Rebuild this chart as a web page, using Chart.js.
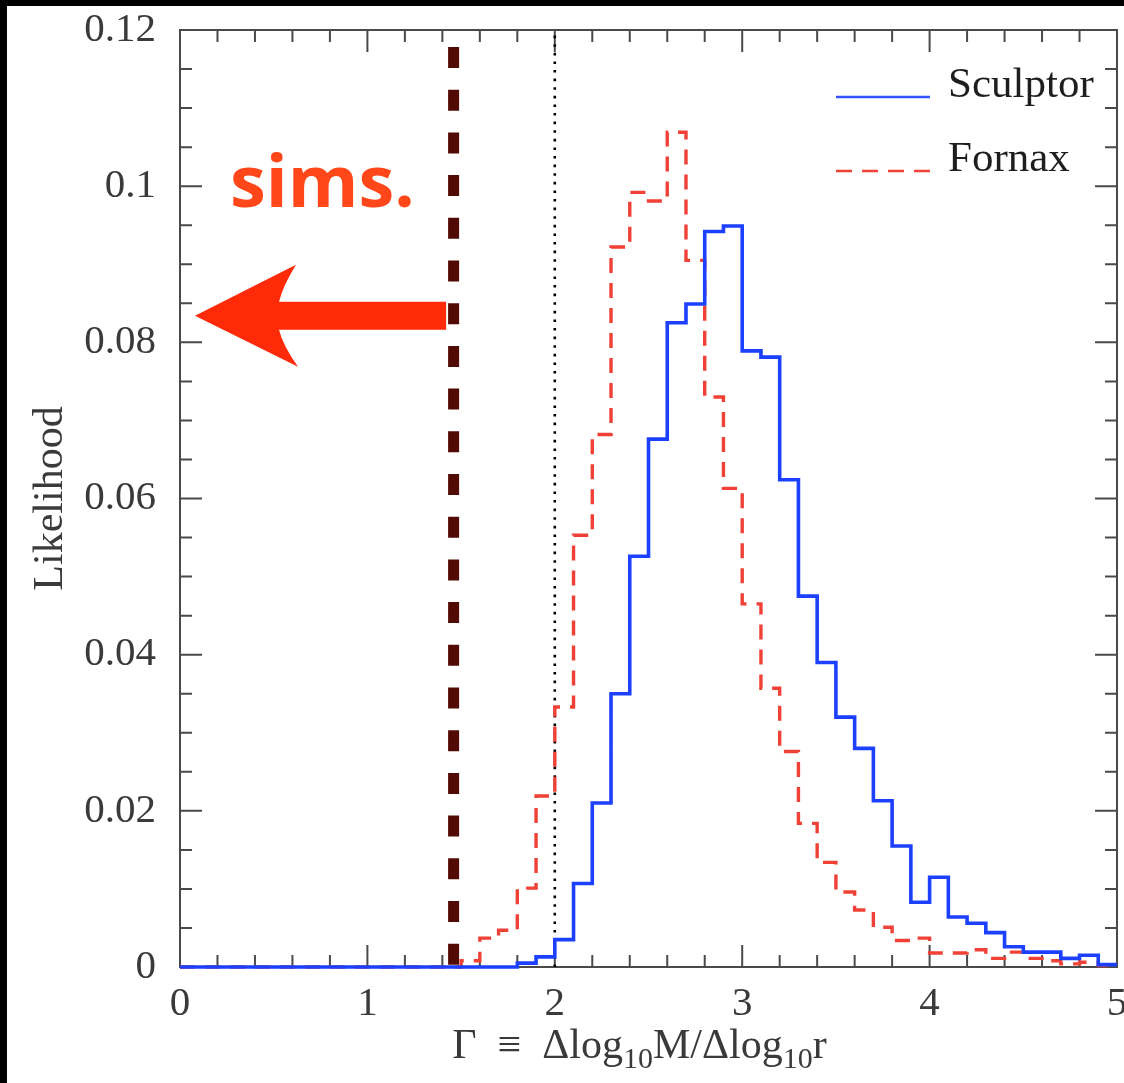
<!DOCTYPE html>
<html>
<head>
<meta charset="utf-8">
<title>Likelihood of Gamma</title>
<script src="https://cdn.jsdelivr.net/npm/chart.js@4.4.1/dist/chart.umd.min.js"></script>
<style>
  html, body { margin: 0; padding: 0; background: #000; }
  #frame { position: absolute; left: 7px; top: 6px; width: 1117px; height: 1077px; background: #fff; }
</style>
</head>
<body>
<div id="frame"><canvas id="likelihood" width="1117" height="1077"></canvas></div>
<script>
// bin edges of the Gamma histograms (bins are 0.1 wide)
const binEdges = [
    0.0, 0.1, 0.2, 0.3, 0.4, 0.5, 0.6, 0.7, 0.8, 0.9,
    1.0, 1.1, 1.2, 1.3, 1.4, 1.5, 1.6, 1.7, 1.8, 1.9,
    2.0, 2.1, 2.2, 2.3, 2.4, 2.5, 2.6, 2.7, 2.8, 2.9,
    3.0, 3.1, 3.2, 3.3, 3.4, 3.5, 3.6, 3.7, 3.8, 3.9,
    4.0, 4.1, 4.2, 4.3, 4.4, 4.5, 4.6, 4.7, 4.8, 4.9,
    5.0
];

// likelihood per bin, one value for each bin starting at binEdges[i]
const sculptorLikelihood = [
    0, 0, 0, 0, 0, 0, 0, 0, 0, 0,
    0, 0, 0, 0, 0, 0, 0, 0, 0.0005, 0.0013,
    0.0035, 0.0107, 0.0210, 0.0350, 0.0526, 0.0676, 0.0825, 0.0849, 0.0942, 0.0949,
    0.0789, 0.0781, 0.0624, 0.0475, 0.0390, 0.0320, 0.0280, 0.0213, 0.0155, 0.0083,
    0.0115, 0.0064, 0.0056, 0.0044, 0.0026, 0.0019, 0.0019, 0.0011, 0.0015, 0.0003
];
const fornaxLikelihood = [
    0, 0, 0, 0, 0, 0, 0, 0, 0, 0,
    0, 0, 0, 0, 0, 0.0008, 0.0037, 0.0047, 0.0101, 0.0219,
    0.0333, 0.0553, 0.0682, 0.0922, 0.0992, 0.0981, 0.1069, 0.0905, 0.0730, 0.0613,
    0.0465, 0.0357, 0.0276, 0.0184, 0.0134, 0.0096, 0.0073, 0.0051, 0.0034, 0.0037,
    0.0018, 0.0018, 0.0022, 0.0011, 0.0019, 0.0011, 0.0008, 0.0004, 0.0006, 0.0002
];

const xTickValues = [0, 1, 2, 3, 4, 5];
const yTickLabels = ['0', '0.02', '0.04', '0.06', '0.08', '0.1', '0.12'];

const gammaRef = 2;      // dotted vertical line
const gammaSims = 1.46;  // thick dashed line, simulations
const yRange = [0, 0.12];

// "sims." arrow, in data units
const arrowTip = [0.08, 0.0834];
const arrowTail = [1.42, 0.0834];
const simsLabelAt = [0.267, 0.0973];

const serif = 'Liberation Serif';
const textColor = '#3a3a3a';
const blue = '#1c40ff';
const red = '#ef4136';

function stepPoints(values) {
    return binEdges.map((x, i) => ({ x: x, y: values[Math.min(i, values.length - 1)] }));
}

// box around the plot with inward ticks on all four sides
const frameTicks = {
    id: 'frameTicks',
    beforeDatasetsDraw(chart) {
        const { ctx, chartArea: a, scales: { x, y } } = chart;
        ctx.save();
        ctx.strokeStyle = '#4a4a4a';
        ctx.lineWidth = 2;
        ctx.beginPath();
        for (let i = 1; i < 25; i++) {
            const px = x.getPixelForValue(i * 0.2);
            const len = i % 5 === 0 ? 22 : 12;
            ctx.moveTo(px, a.bottom); ctx.lineTo(px, a.bottom - len);
            ctx.moveTo(px, a.top); ctx.lineTo(px, a.top + len);
        }
        for (let i = 1; i < 24; i++) {
            const py = y.getPixelForValue(i * 0.005);
            const len = i % 4 === 0 ? 22 : 12;
            ctx.moveTo(a.left, py); ctx.lineTo(a.left + len, py);
            ctx.moveTo(a.right, py); ctx.lineTo(a.right - len, py);
        }
        ctx.stroke();
        ctx.strokeRect(a.left, a.top, a.right - a.left, a.bottom - a.top);
        ctx.restore();
    }
};

// legend, x title with subscripts, and the sims arrow
const overlay = {
    id: 'overlay',
    afterDatasetsDraw(chart) {
        const { ctx, chartArea: a, scales: { x, y } } = chart;
        ctx.save();

        // legend
        const legendRows = [
            { label: 'Sculptor', color: '#3355ff', dash: [], dy: 67 },
            { label: 'Fornax', color: red, dash: [16, 10], dy: 141 }
        ];
        ctx.font = '43px "' + serif + '"';
        ctx.textBaseline = 'alphabetic';
        ctx.textAlign = 'left';
        legendRows.forEach(row => {
            const ly = a.top + row.dy;
            ctx.strokeStyle = row.color;
            ctx.lineWidth = 2.4;
            ctx.setLineDash(row.dash);
            ctx.beginPath();
            ctx.moveTo(a.right - 281, ly);
            ctx.lineTo(a.right - 187, ly);
            ctx.stroke();
            ctx.fillStyle = '#1e1e1e';
            ctx.fillText(row.label, a.right - 169, ly);
        });
        ctx.setLineDash([]);

        // x axis title: Γ ≡ Δlog10M/Δlog10r
        const parts = [
            ['Γ', false], ['  ≡  ', false], ['Δlog', false], ['10', true],
            ['M/Δlog', false], ['10', true], ['r', false]
        ];
        const mainFont = '42px "' + serif + '"';
        const subFont = '30px "' + serif + '"';
        let total = 0;
        parts.forEach(p => { ctx.font = p[1] ? subFont : mainFont; total += ctx.measureText(p[0]).width; });
        let tx = (a.left + a.right) / 2 - 9 - total / 2;
        const baseY = a.bottom + 91;
        ctx.fillStyle = textColor;
        parts.forEach(p => {
            ctx.font = p[1] ? subFont : mainFont;
            ctx.fillText(p[0], tx, p[1] ? baseY + 10 : baseY);
            tx += ctx.measureText(p[0]).width;
        });

        // arrow pointing to low Gamma
        const tipX = x.getPixelForValue(arrowTip[0]);
        const cy = y.getPixelForValue(arrowTip[1]);
        const tailX = x.getPixelForValue(arrowTail[0]);
        ctx.fillStyle = '#ff2a08';
        ctx.beginPath();
        ctx.moveTo(tipX, cy);
        ctx.lineTo(tipX + 101, cy - 51);
        ctx.quadraticCurveTo(tipX + 88, cy - 30, tipX + 84, cy - 14);
        ctx.lineTo(tailX, cy - 14);
        ctx.lineTo(tailX, cy + 14);
        ctx.lineTo(tipX + 84, cy + 14);
        ctx.quadraticCurveTo(tipX + 88, cy + 30, tipX + 103, cy + 51);
        ctx.closePath();
        ctx.fill();

        ctx.fillStyle = '#ff4719';
        ctx.font = 'bold 72px "Open Sans"';
        ctx.fillText('sims.', x.getPixelForValue(simsLabelAt[0]), y.getPixelForValue(simsLabelAt[1]));
        ctx.restore();
    }
};

const tickFont = { family: serif, size: 41 };

new Chart(document.getElementById('likelihood'), {
    type: 'line',
    data: {
        datasets: [
            {
                label: 'Sculptor',
                data: stepPoints(sculptorLikelihood),
                borderColor: blue, borderWidth: 3.6,
                stepped: 'before', pointRadius: 0, fill: false, clip: 6, order: 1
            },
            {
                label: 'Fornax',
                data: stepPoints(fornaxLikelihood),
                borderColor: red, borderWidth: 3.4, borderDash: [15, 10],
                stepped: 'before', pointRadius: 0, fill: false, clip: 6, order: 2
            },
            {
                label: 'ref',
                data: [{ x: gammaRef, y: yRange[0] }, { x: gammaRef, y: yRange[1] }],
                borderColor: '#000', borderWidth: 2.6, borderDash: [2.6, 6],
                pointRadius: 0, fill: false, order: 3
            },
            {
                label: 'sims',
                data: [{ x: gammaSims, y: yRange[1] }, { x: gammaSims, y: yRange[0] }],
                borderColor: '#520a05', borderWidth: 11, borderDash: [21, 21.7], borderDashOffset: 25.7,
                pointRadius: 0, fill: false, order: 4
            }
        ]
    },
    options: {
        responsive: false,
        animation: false,
        devicePixelRatio: 1,
        layout: { padding: { left: 0, right: 7, top: 24, bottom: 0 } },
        plugins: { legend: { display: false }, tooltip: { enabled: false } },
        scales: {
            x: {
                type: 'linear', min: xTickValues[0], max: xTickValues[xTickValues.length - 1],
                grid: { display: false }, border: { display: false },
                ticks: {
                    stepSize: 1, padding: 5, font: tickFont, color: textColor,
                    maxRotation: 0, autoSkip: false,
                    callback: v => String(v)
                },
                afterFit: s => { s.height = 116; s.paddingLeft = 0; s.paddingRight = 0; }
            },
            y: {
                min: yRange[0], max: yRange[1],
                grid: { display: false }, border: { display: false },
                ticks: {
                    stepSize: 0.02, padding: 16, font: tickFont, color: textColor,
                    callback: (v, i) => yTickLabels[i]
                },
                title: {
                    display: true, text: 'Likelihood', color: textColor,
                    font: { family: serif, size: 42 }, padding: { top: 19, bottom: 0 }
                },
                afterFit: s => { s.width = 173; s.paddingTop = 0; s.paddingBottom = 0; }
            }
        }
    },
    plugins: [frameTicks, overlay]
});
</script>
</body>
</html>
